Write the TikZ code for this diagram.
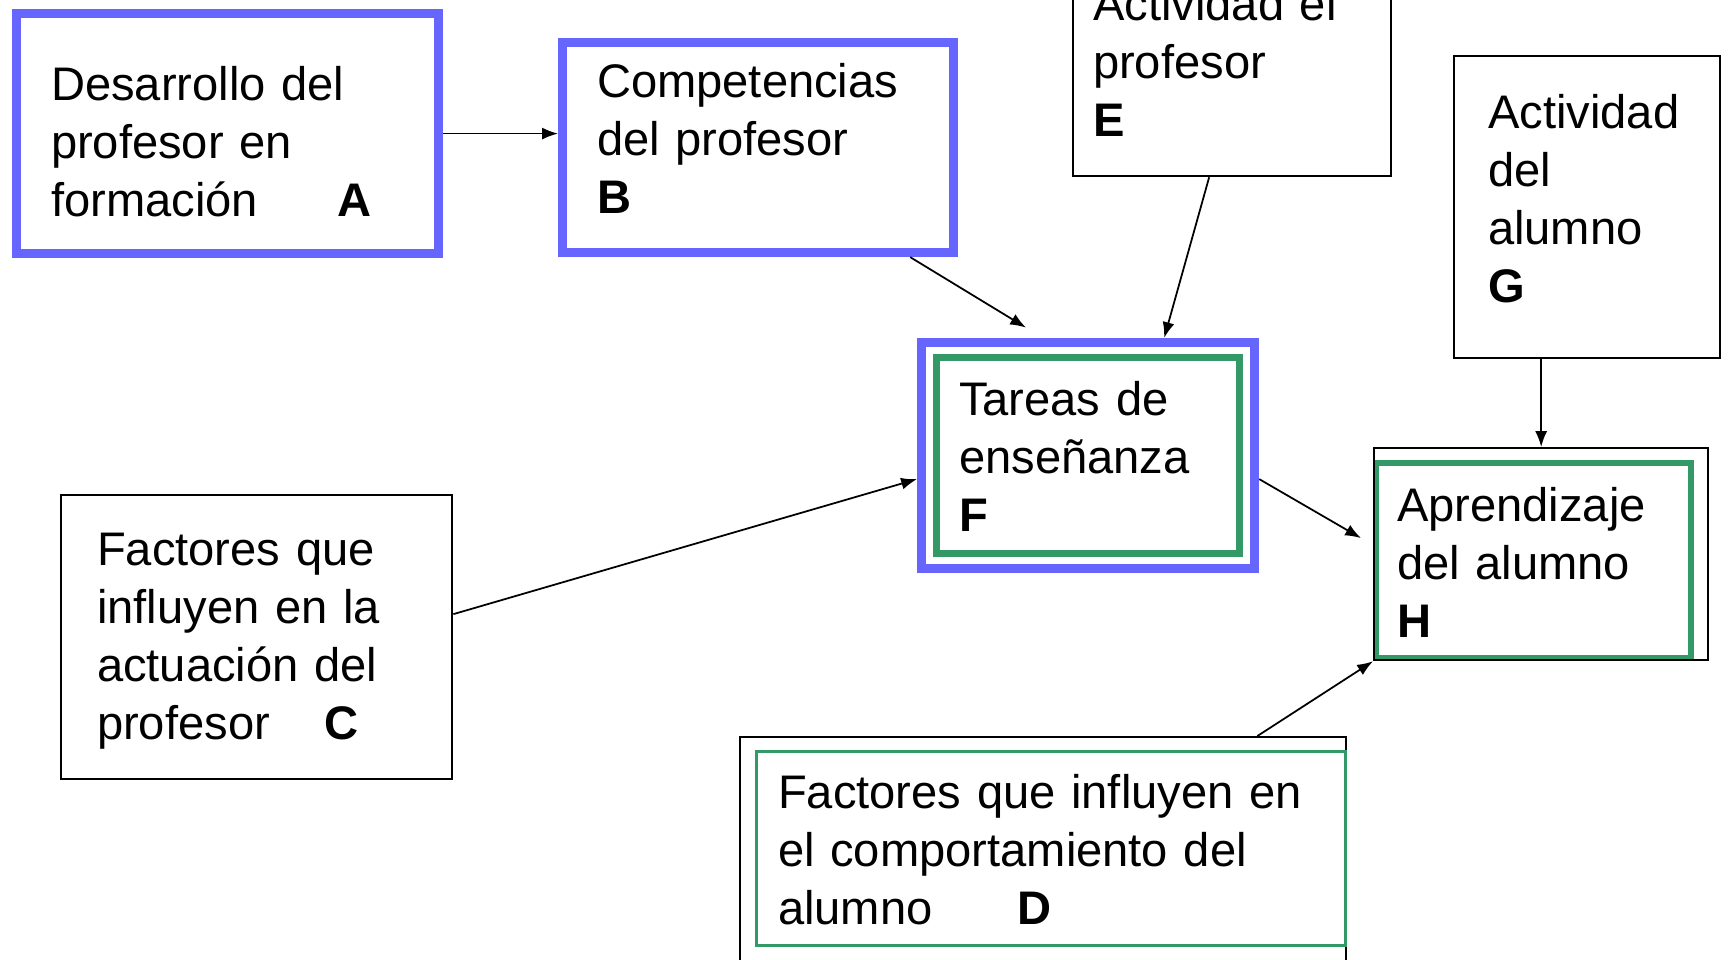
\documentclass[tikz,border=0pt]{standalone}
\usepackage{fontspec}
\setmainfont{Liberation Sans}
\usetikzlibrary{arrows.meta,fit}
\definecolor{marcoazul}{RGB}{102,102,255}
\definecolor{marcoverde}{RGB}{51,153,102}

\begin{document}
\begin{tikzpicture}[x=0.01cm, y=-0.01cm,
    caja/.style={rectangle, anchor=north west, align=left, inner ysep=0pt,
        font=\fontsize{13.4pt}{16.5pt}\selectfont},
    azul/.style={caja, draw=marcoazul, line width=2.56pt},
    verde/.style={caja, draw=marcoverde, line width=#1},
    negra/.style={caja, draw=black, line width=0.6pt},
    flecha/.style={-{Latex[length=4.5pt,width=3.4pt]}, line width=0.5pt}]
    \useasboundingbox (0,0) rectangle (1728,959);
    \clip (0,0) rectangle (1728,959);

    % === Profesor: A y B ===
    \node[azul, text width=3.53cm, inner xsep=0.345cm, text height=0.865cm, text depth=1.535cm] (A) at (12,9)
        {Desarrollo del\\profesor en\\formación\hspace{0.8cm}\textbf{A}};
    \node[azul, text width=3.22cm, inner xsep=0.345cm, text height=0.545cm, text depth=1.555cm] (B) at (558,38)
        {Competencias\\del profesor\\\textbf{B}};

    % === Actividades: E y G ===
    \node[negra, text width=2.78cm, inner xsep=0.2cm, text height=0.9cm, text depth=1.56cm] (E) at (1072,-71)
        {Actividad el\\profesor\\\textbf{E}};
    \node[negra, text width=1.98cm, inner xsep=0.34cm, text height=0.72cm, text depth=2.3cm] (G) at (1453,55)
        {Actividad\\del\\alumno\\\textbf{G}};

    % === Tareas de enseñanza: F (doble marco) ===
    \node[verde=2pt, text width=2.58cm, inner xsep=0.225cm, text height=0.575cm, text depth=1.385cm] (F) at (933,354)
        {Tareas de\\enseñanza\\\textbf{F}};
    \node[draw=marcoazul, line width=2.56pt, fit=(F), inner sep=0.115cm] (Fo) {};

    % === Aprendizaje: H ===
    \node[verde=1.7pt, text width=2.73cm, inner xsep=0.21cm, text height=0.58cm, text depth=1.37cm] (H) at (1373,460)
        {Aprendizaje\\del alumno\\\textbf{H}};
    \node[negra, minimum width=3.34cm, minimum height=2.12cm, inner sep=0pt] (Ho) at (1373,447) {};

    % === Factores: C y D ===
    \node[negra, text width=3.19cm, inner xsep=0.36cm, text height=0.7cm, text depth=2.14cm] (C) at (60,494)
        {Factores que\\influyen en la\\actuación del\\profesor\hspace{0.55cm}\textbf{C}};
    \node[negra, minimum width=6.06cm, minimum height=2.6cm, inner sep=0pt] (Do) at (739,736) {};
    \node[verde=0.85pt, text width=5.455cm, inner xsep=0.215cm, text height=0.565cm, text depth=1.375cm] (D) at (755,750)
        {Factores que influyen en\\el comportamiento del\\alumno\hspace{0.85cm}\textbf{D}};

    % Flechas
    \draw[flecha] (A.east) -- (A.east -| B.west);
    \draw[flecha, shorten >=0.2cm] ([xshift=1.52cm]B.south) -- ([xshift=-0.45cm]Fo.north);
    \draw[flecha] ([xshift=-0.23cm]E.south) -- ([xshift=0.76cm]Fo.north);
    \draw[flecha] ([yshift=0.23cm]C.east) -- ([yshift=-0.235cm]Fo.west);
    \draw[flecha] ([yshift=-0.235cm]Fo.east) -- ([xshift=-0.12cm,yshift=0.16cm]Ho.west);
    \draw[flecha] (G.south -| Ho.north) -- (Ho.north);
    \draw[flecha] ([xshift=2.14cm]Do.north) -- (Ho.south west);
\end{tikzpicture}
\end{document}
